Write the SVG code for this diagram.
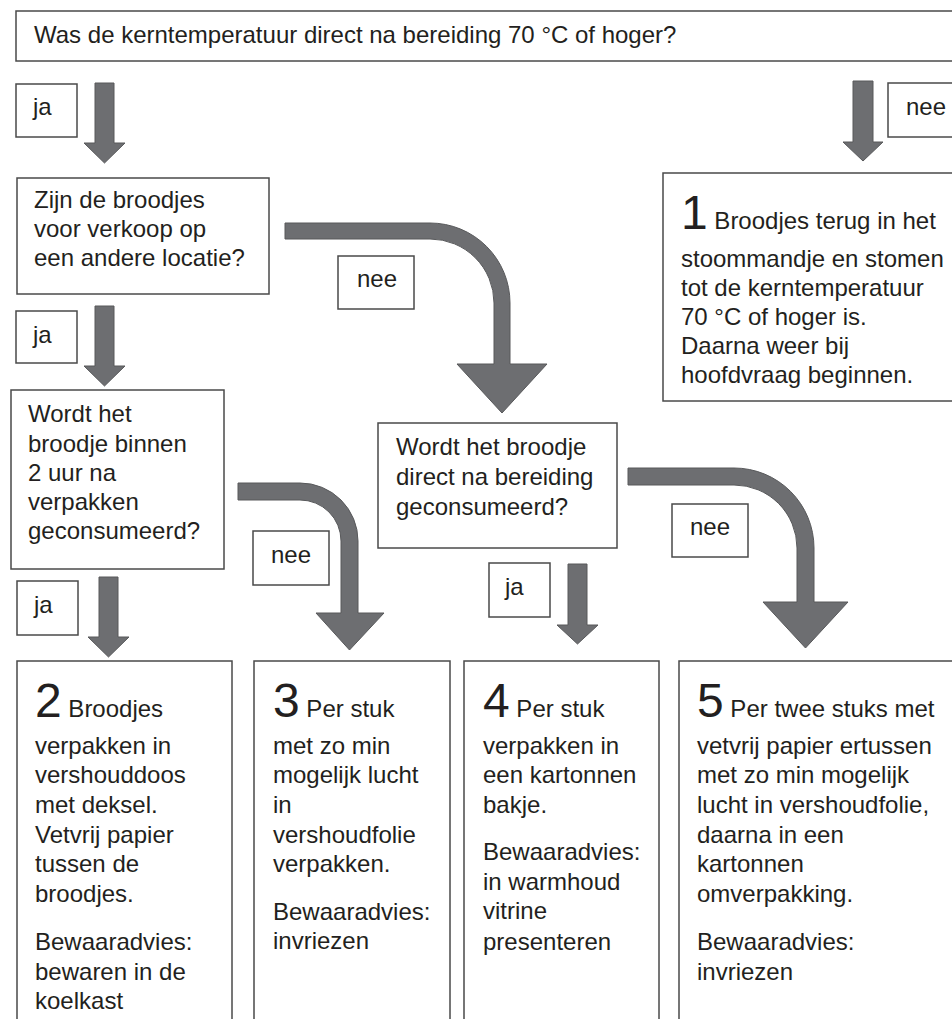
<svg xmlns="http://www.w3.org/2000/svg" width="952" height="1019" viewBox="0 0 952 1019">
<style>
.box{fill:#fff;stroke:#4a4a4a;stroke-width:1.5}
.arr{fill:#6d6e71;stroke:#58595b;stroke-width:1}
text{font-family:"Liberation Sans",Arial,sans-serif;font-size:24px;fill:#231f20}
.big{font-size:48px}
</style>
<rect width="952" height="1019" fill="#fff"/>
<g id="connectors">
<path class="arr" d="M95 83H114V143H125L104.5 163L84 143H95Z"/>
<path class="arr" d="M95 306H114V366H125L104.5 386L84 366H95Z"/>
<path class="arr" d="M99 577H118V637H129L108.5 657L88 637H99Z"/>
<path class="arr" d="M853 81H873V142H883L863 161L843 142H853Z"/>
<path class="arr" d="M568 564H587V625H598L577.5 644L557 625H568Z"/>
<path class="arr" d="M285 223H430A80 80 0 0 1 510 303V364H547L502 413L457 364H494V303A64 64 0 0 0 430 239H285Z"/>
<path class="arr" d="M238 483H300A58 58 0 0 1 358 541V613H384L349.5 650L316 613H341V541A41 41 0 0 0 300 500H238Z"/>
<path class="arr" d="M628 468H734A80 80 0 0 1 814 548V602H848L805.5 648L763 602H797V548A63 63 0 0 0 734 485H628Z"/>
</g>
<g id="q-main">
<rect class="box" x="16" y="11" width="950" height="50"/>
<text x="34" y="43">Was de kerntemperatuur direct na bereiding 70 °C of hoger?</text>
</g>
<g id="lbl-ja1"><rect class="box" x="16" y="84" width="61" height="53"/><text x="33" y="115">ja</text></g>
<g id="lbl-nee-top"><rect class="box" x="888" y="83" width="80" height="54"/><text x="906" y="115">nee</text></g>
<g id="q-locatie">
<rect class="box" x="17" y="178" width="252" height="116"/>
<text x="34" y="208">Zijn de broodjes</text>
<text x="34" y="237">voor verkoop op</text>
<text x="34" y="266">een andere locatie?</text>
</g>
<g id="lbl-nee1"><rect class="box" x="338" y="256" width="76" height="53"/><text x="357" y="287">nee</text></g>
<g id="lbl-ja2"><rect class="box" x="16" y="311" width="61" height="52"/><text x="33" y="343">ja</text></g>
<g id="advice-1">
<rect class="box" x="663" y="173" width="300" height="228"/>
<text x="681" y="229"><tspan class="big">1</tspan> Broodjes terug in het</text>
<text x="681" y="267">stoommandje en stomen</text>
<text x="681" y="296">tot de kerntemperatuur</text>
<text x="681" y="325">70 °C of hoger is.</text>
<text x="681" y="354">Daarna weer bij</text>
<text x="681" y="383">hoofdvraag beginnen.</text>
</g>
<g id="q-binnen">
<rect class="box" x="11" y="390" width="213" height="179"/>
<text x="28" y="422">Wordt het</text>
<text x="28" y="452">broodje binnen</text>
<text x="28" y="481">2 uur na</text>
<text x="28" y="510">verpakken</text>
<text x="28" y="539">geconsumeerd?</text>
</g>
<g id="q-direct">
<rect class="box" x="378" y="423" width="239" height="125"/>
<text x="396" y="455">Wordt het broodje</text>
<text x="396" y="485">direct na bereiding</text>
<text x="396" y="515">geconsumeerd?</text>
</g>
<g id="lbl-nee2"><rect class="box" x="253" y="531" width="76" height="54"/><text x="271" y="563">nee</text></g>
<g id="lbl-nee3"><rect class="box" x="672" y="504" width="76" height="53"/><text x="690" y="535">nee</text></g>
<g id="lbl-ja3"><rect class="box" x="489" y="563" width="61" height="54"/><text x="505" y="595">ja</text></g>
<g id="lbl-ja4"><rect class="box" x="17" y="581" width="61" height="54"/><text x="34" y="613">ja</text></g>
<g id="advice-2">
<rect class="box" x="17" y="661" width="215" height="400"/>
<text x="35" y="717"><tspan class="big">2</tspan> Broodjes</text>
<text x="35" y="754">verpakken in</text>
<text x="35" y="783">vershouddoos</text>
<text x="35" y="813">met deksel.</text>
<text x="35" y="843">Vetvrij papier</text>
<text x="35" y="872">tussen de</text>
<text x="35" y="902">broodjes.</text>
<text x="35" y="950">Bewaaradvies:</text>
<text x="35" y="980">bewaren in de</text>
<text x="35" y="1009">koelkast</text>
</g>
<g id="advice-3">
<rect class="box" x="254" y="661" width="196" height="400"/>
<text x="273" y="717"><tspan class="big">3</tspan> Per stuk</text>
<text x="273" y="754">met zo min</text>
<text x="273" y="783">mogelijk lucht</text>
<text x="273" y="813">in</text>
<text x="273" y="843">vershoudfolie</text>
<text x="273" y="872">verpakken.</text>
<text x="273" y="920">Bewaaradvies:</text>
<text x="273" y="949">invriezen</text>
</g>
<g id="advice-4">
<rect class="box" x="464" y="661" width="195" height="400"/>
<text x="483" y="717"><tspan class="big">4</tspan> Per stuk</text>
<text x="483" y="754">verpakken in</text>
<text x="483" y="783">een kartonnen</text>
<text x="483" y="813">bakje.</text>
<text x="483" y="860">Bewaaradvies:</text>
<text x="483" y="890">in warmhoud</text>
<text x="483" y="919">vitrine</text>
<text x="483" y="950">presenteren</text>
</g>
<g id="advice-5">
<rect class="box" x="679" y="661" width="300" height="400"/>
<text x="697" y="717"><tspan class="big">5</tspan> Per twee stuks met</text>
<text x="697" y="754">vetvrij papier ertussen</text>
<text x="697" y="783">met zo min mogelijk</text>
<text x="697" y="813">lucht in vershoudfolie,</text>
<text x="697" y="843">daarna in een</text>
<text x="697" y="872">kartonnen</text>
<text x="697" y="902">omverpakking.</text>
<text x="697" y="950">Bewaaradvies:</text>
<text x="697" y="980">invriezen</text>
</g>
</svg>
